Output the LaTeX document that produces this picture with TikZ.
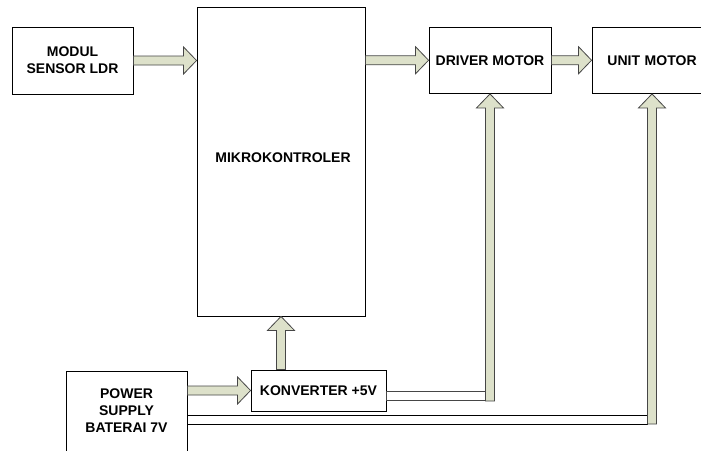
\documentclass[tikz,border=0pt]{standalone}
\usepackage{fontspec}
\setmainfont{Liberation Sans}
\usetikzlibrary{calc}
\definecolor{arrfill}{RGB}{221,225,202}
\definecolor{arrline}{RGB}{70,70,70}
\tikzset{
  blk/.style={draw=black, line width=0.9pt, fill=white, inner sep=0pt, align=center,
    font=\fontsize{14}{17}\selectfont\bfseries},
  barrow/.style={draw=arrline, fill=arrfill, line width=0.8pt, line join=miter},
  busline/.style={draw=arrline, fill=white, line width=0.8pt},
  bus2/.style={draw=black, line width=0.8pt}
}
\newcommand{\harrow}[2]{\draw[barrow] ($(#1)+(0,-4.5)$) -- ($(#2)+(-13,-4.5)$) -- ($(#2)+(-13,-13.5)$) -- (#2) -- ($(#2)+(-13,13.5)$) -- ($(#2)+(-13,4.5)$) -- ($(#1)+(0,4.5)$) -- cycle;}
\newcommand{\varrow}[2]{\draw[barrow] ($(#1)+(-4.5,0)$) -- ($(#2)+(-4.5,14)$) -- ($(#2)+(-13.5,14)$) -- (#2) -- ($(#2)+(13.5,14)$) -- ($(#2)+(4.5,14)$) -- ($(#1)+(4.5,0)$) -- cycle;}
\begin{document}
\begin{tikzpicture}[x=1pt,y=-1pt]
\useasboundingbox (0,0) rectangle (701,450);
\clip (0,0) rectangle (701,450);
\fill[white] (0,0) rectangle (701,450);
% blocks
\node[blk, minimum width=121pt, minimum height=67pt] (sensor) at (72.5,60.5) {MODUL\\SENSOR LDR};
\node[blk, minimum width=168pt, minimum height=309pt] (mikro) at (281,161.5) {};
\node[font=\fontsize{14}{17}\selectfont\bfseries] (mikrotxt) at (283,158) {MIKROKONTROLER};
\node[blk, minimum width=122pt, minimum height=66.5pt] (driver) at (490,60.25) {DRIVER MOTOR};
\node[blk, minimum width=120pt, minimum height=66.5pt, text width=120pt] (unit) at (652,60.25) {UNIT MOTOR};
\node[blk, minimum width=135pt, minimum height=41pt] (konv) at (318.5,390.5) {KONVERTER +5V};
\node[blk, minimum width=121pt, minimum height=80pt] (ps) at (126.5,411) {POWER\\SUPPLY\\BATERAI 7V};
% coordinates
\coordinate (sm) at (sensor.east -| mikro.west);
\coordinate (md) at (mikro.east |- driver.west);
\coordinate (pk) at (ps.east |- konv.west);
\coordinate (kt) at (mikro.south |- konv.north);
\coordinate (dbot) at (driver.south |- 0,401);
\coordinate (ubot) at (unit.south |- 0,424);
\coordinate (b1) at (ps.east |- 0,415);
\coordinate (b2) at (ps.east |- 0,424);
\coordinate (k1) at (konv.east |- 0,391);
% arrows
\harrow{sensor.east}{sm}
\harrow{md}{driver.west}
\harrow{driver.east}{unit.west}
\harrow{pk}{konv.west}
\varrow{kt}{mikro.south}
% power buses
\draw[busline] (k1) rectangle ($(dbot)+(-4.5,-1)$);
\varrow{dbot}{driver.south}
\draw[bus2] (b1) -- ($(ubot)+(-4.5,-9)$);
\draw[bus2] (b2) -- ($(ubot)+(-4.5,0)$);
\varrow{ubot}{unit.south}
\end{tikzpicture}
\end{document}
